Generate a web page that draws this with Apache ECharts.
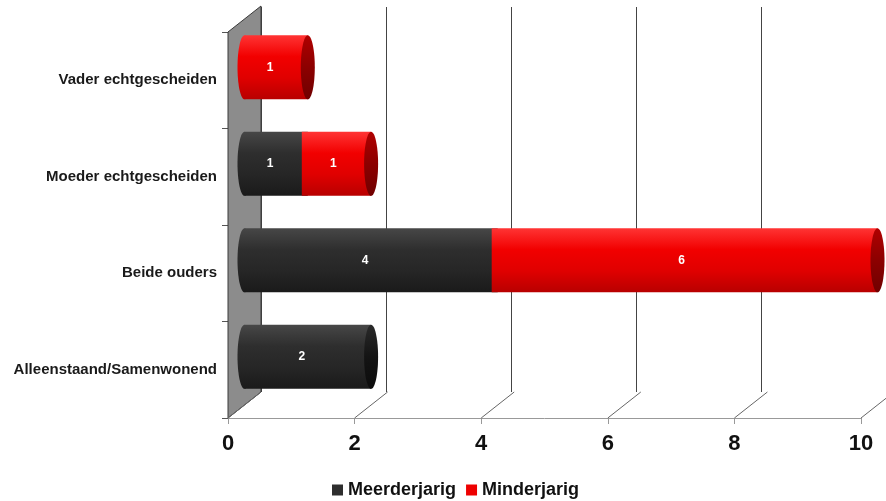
<!DOCTYPE html>
<html>
<head>
<meta charset="utf-8">
<script src="https://cdn.jsdelivr.net/npm/echarts@6/dist/echarts.min.js"></script>
<style>html,body{margin:0;padding:0;background:#fff}#c{width:886px;height:501px}</style>
</head>
<body>
<div id="c"></div>
<script>
const categories = ['Vader echtgescheiden', 'Moeder echtgescheiden', 'Beide ouders', 'Alleenstaand/Samenwonend'];
const meerderjarig = [0, 1, 4, 2];
const minderjarig = [1, 1, 6, 0];
const xTicks = [0, 2, 4, 6, 8, 10];

const FONT = 'Liberation Sans, Arial, sans-serif';
const DX = 33, DY = -26; // depth of the pseudo-3D frame (layout)

// [category index, start, end, value, value of the segment stacked after it]
const meerData = categories.map((c, i) => [i, 0, meerderjarig[i], meerderjarig[i], minderjarig[i]]);
const minData = categories.map((c, i) => [i, meerderjarig[i], meerderjarig[i] + minderjarig[i], minderjarig[i], 0]);

function grad(stops) {
  return { type: 'linear', x: 0, y: 0, x2: 0, y2: 1, colorStops: stops.map((c, k) => ({ offset: k / (stops.length - 1), color: c })) };
}
const styles = {
  Meerderjarig: {
    body: grad(['#474747', '#2e2e2e', '#262626', '#1a1a1a']),
    cap: grad(['#2a2a2a', '#141414', '#0c0c0c'])
  },
  Minderjarig: {
    body: grad(['#ff3434', '#f20000', '#e00000', '#b80000']),
    cap: grad(['#b00000', '#8c0000', '#700000'])
  }
};

function barRenderer(name) {
  const st = styles[name];
  return function (params, api) {
    const cat = api.value(0), s = api.value(1), e = api.value(2), v = api.value(3), next = api.value(4);
    if (!v) return null;
    const p0 = api.coord([s, cat]);
    const p1 = api.coord([e, cat]);
    const bh = api.size([0, 1])[1] * 0.665;
    const ry = bh / 2, rx = 7;
    const cy = p0[1];
    const children = [];
    let x0 = p0[0];
    if (s === 0) {
      children.push({ type: 'ellipse', shape: { cx: p0[0], cy: cy, rx: rx, ry: ry }, style: { fill: st.body } });
    } else {
      x0 = p0[0] - rx + 1;
    }
    children.push({ type: 'rect', shape: { x: x0, y: cy - ry, width: p1[0] - x0, height: bh }, style: { fill: st.body } });
    if (!next) {
      children.push({ type: 'ellipse', shape: { cx: p1[0], cy: cy, rx: rx, ry: ry }, style: { fill: st.cap } });
    }
    children.push({ type: 'text', style: { text: String(v), x: (p0[0] + p1[0]) / 2 - rx + 1, y: cy, fill: '#ffffff', fontSize: 12, fontWeight: 'bold', fontFamily: FONT, align: 'center', verticalAlign: 'middle' } });
    return { type: 'group', children: children };
  };
}

function frameRenderer(params, api) {
  const cs = params.coordSys;
  const v = api.value(0);
  const px = api.coord([v, 0])[0];
  const bottom = cs.y + cs.height;
  const children = [];
  if (params.dataIndex === 0) {
    children.push({
      type: 'polygon',
      shape: { points: [[cs.x, cs.y], [cs.x + DX, cs.y + DY], [cs.x + DX, bottom + DY], [cs.x, bottom]] },
      style: { fill: '#8c8c8c', stroke: '#3a3a3a', lineWidth: 1 }
    });
  }
  children.push({
    type: 'line',
    shape: { x1: px, y1: bottom, x2: px + DX, y2: bottom + DY },
    style: { stroke: '#666', lineWidth: 1 }
  });
  return { type: 'group', children: children };
}

const chart = echarts.init(document.getElementById('c'), null, { renderer: 'canvas' });
chart.setOption({
  backgroundColor: '#ffffff',
  animation: false,
  grid: [
    { left: 228, top: 32, width: 633, height: 386 },
    { left: 244.5, top: 19, width: 633, height: 386 },
    { left: 261, top: 7, width: 633, height: 385 }
  ],
  xAxis: [
    {
      gridIndex: 0, type: 'value', min: 0, max: 10, interval: 2,
      axisLine: { show: true, lineStyle: { color: '#999', width: 1 } },
      axisTick: { show: true, length: 6, lineStyle: { color: '#999' } },
      splitLine: { show: false },
      axisLabel: { fontSize: 22, fontWeight: 'bold', color: '#111', margin: 15, fontFamily: FONT }
    },
    {
      gridIndex: 1, type: 'value', min: 0, max: 10, interval: 2,
      show: false
    },
    {
      gridIndex: 2, type: 'value', min: 0, max: 10, interval: 2,
      axisLine: { show: false }, axisTick: { show: false }, axisLabel: { show: false },
      splitLine: { show: true, lineStyle: { color: '#444', width: 1 } }
    }
  ],
  yAxis: [
    {
      gridIndex: 0, type: 'category', data: categories, inverse: true,
      axisLine: { show: true, lineStyle: { color: '#333', width: 1 } },
      axisTick: { show: true, length: 6, lineStyle: { color: '#555' } },
      axisLabel: { fontSize: 15, fontWeight: 'bold', color: '#1a1a1a', margin: 11, fontFamily: FONT }
    },
    { gridIndex: 1, type: 'category', data: categories, inverse: true, show: false },
    { gridIndex: 2, type: 'category', data: categories, inverse: true, show: false }
  ],
  legend: {
    data: ['Meerderjarig', 'Minderjarig'],
    left: 327, top: 476,
    icon: 'rect', itemWidth: 11, itemHeight: 11, itemGap: 10,
    textStyle: { fontSize: 18, fontWeight: 'bold', color: '#111', fontFamily: FONT }
  },
  series: [
    {
      type: 'custom', name: 'frame', xAxisIndex: 0, yAxisIndex: 0, z: 1, silent: true,
      renderItem: frameRenderer,
      data: xTicks.map(t => [t, 0]),
      encode: { x: 0, y: 1 }
    },
    {
      type: 'custom', name: 'Meerderjarig', xAxisIndex: 1, yAxisIndex: 1, z: 3,
      itemStyle: { color: '#2e2e2e' },
      renderItem: barRenderer('Meerderjarig'),
      data: meerData,
      encode: { x: [1, 2], y: 0 }
    },
    {
      type: 'custom', name: 'Minderjarig', xAxisIndex: 1, yAxisIndex: 1, z: 3,
      itemStyle: { color: '#ee0000' },
      renderItem: barRenderer('Minderjarig'),
      data: minData,
      encode: { x: [1, 2], y: 0 }
    }
  ]
});
</script>
</body>
</html>
